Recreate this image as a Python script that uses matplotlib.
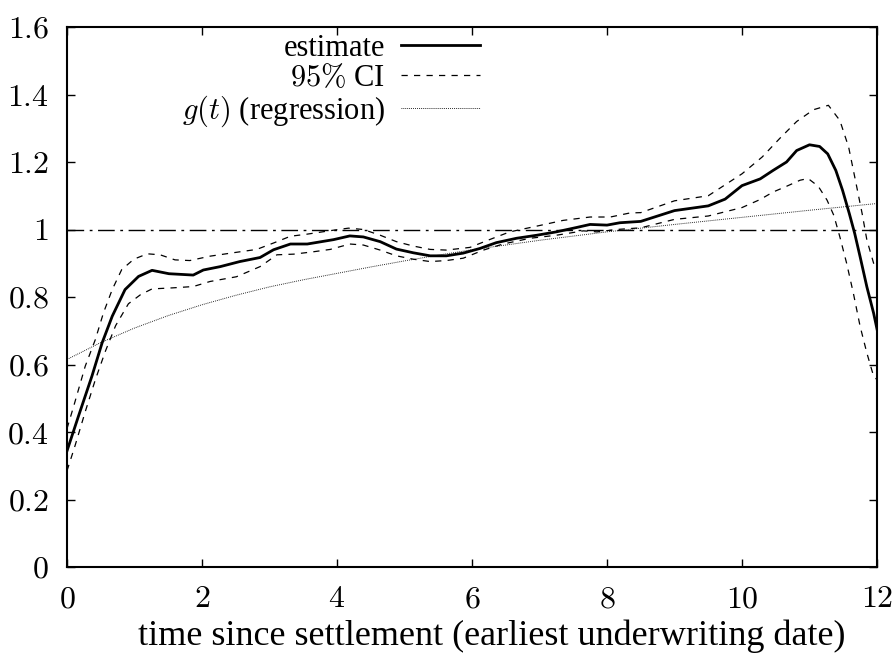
import numpy as np
import matplotlib
matplotlib.use("Agg")
import matplotlib.pyplot as plt
from matplotlib.ticker import FuncFormatter

# -------------------------------
# data
# -------------------------------
t_est = [0.0, 0.17, 0.37, 0.52, 0.67, 0.86, 1.06, 1.26, 1.41, 1.51, 1.87, 2.02, 2.27, 2.56, 2.86,
         3.06, 3.31, 3.56, 3.95, 4.19, 4.39, 4.64, 4.88, 5.13, 5.38, 5.62, 5.87, 6.12,
         6.36, 6.66, 6.96, 7.25, 7.55, 7.75, 8.0, 8.19, 8.5, 9.0, 9.5, 9.75, 10.0, 10.27,
         10.46, 10.66, 10.81, 11.0, 11.15, 11.27, 11.39, 11.49, 11.59, 11.67, 11.75,
         11.85, 11.95, 12.0]
est = [0.344, 0.447, 0.566, 0.664, 0.743, 0.822, 0.861, 0.879, 0.873, 0.869, 0.865, 0.88, 0.89, 0.905, 0.917,
       0.94, 0.957, 0.957, 0.97, 0.981, 0.978, 0.964, 0.942, 0.931, 0.922, 0.922, 0.93, 0.944,
       0.961, 0.974, 0.983, 0.993, 1.006, 1.015, 1.013, 1.02, 1.024, 1.056, 1.07, 1.09, 1.13, 1.15,
       1.175, 1.2, 1.234, 1.251, 1.246, 1.224, 1.175, 1.116, 1.047, 0.988, 0.919,
       0.83, 0.752, 0.705]

t_hi = [0.0, 0.10, 0.27, 0.42, 0.54, 0.67, 0.81, 0.99, 1.19, 1.38, 1.6, 1.82, 2.12, 2.46, 2.81,
        3.06, 3.31, 3.55, 3.95, 4.17, 4.39, 4.64, 4.88, 5.13, 5.38, 5.62, 5.97, 6.22, 6.56,
        6.96, 7.35, 7.75, 8.05, 8.34, 8.5, 9.0, 9.5, 10.0, 10.3, 10.56, 10.81, 11.06, 11.28,
        11.45, 11.58, 11.68, 11.78, 11.85, 11.95, 12.0]
ci_hi = [0.41, 0.477, 0.595, 0.674, 0.753, 0.822, 0.881, 0.912, 0.928, 0.925, 0.91, 0.908, 0.921, 0.931, 0.941,
         0.96, 0.98, 0.986, 0.998, 1.004, 1.0, 0.983, 0.964, 0.951, 0.941, 0.939, 0.947, 0.967, 0.993,
         1.01, 1.027, 1.037, 1.037, 1.049, 1.05, 1.085, 1.10, 1.165, 1.215, 1.27, 1.32, 1.355, 1.368,
         1.323, 1.244, 1.146, 1.047, 0.969, 0.90, 0.885]

t_lo = [0.0, 0.12, 0.27, 0.42, 0.57, 0.72, 0.91, 1.09, 1.26, 1.56, 1.87, 2.12, 2.51, 2.86,
        3.11, 3.36, 3.65, 3.9, 4.19, 4.39, 4.64, 4.88, 5.13, 5.38, 5.62, 5.87, 6.17, 6.46,
        6.86, 7.25, 7.65, 7.85, 8.14, 8.5, 9.0, 9.5, 10.0, 10.27, 10.46, 10.66, 10.86, 10.98,
        11.13, 11.26, 11.36, 11.45, 11.55, 11.65, 11.75, 11.85, 11.95, 12.0]
ci_lo = [0.285, 0.36, 0.46, 0.555, 0.64, 0.715, 0.78, 0.807, 0.824, 0.827, 0.831, 0.846, 0.86, 0.89,
         0.925, 0.927, 0.934, 0.941, 0.957, 0.954, 0.939, 0.922, 0.912, 0.905, 0.908, 0.915, 0.939, 0.957,
         0.974, 0.983, 0.996, 0.993, 1.0, 1.005, 1.03, 1.04, 1.065, 1.089, 1.111, 1.128, 1.146, 1.151,
         1.128, 1.087, 1.042, 0.978, 0.90, 0.811, 0.713, 0.634, 0.565, 0.555]

t_reg = [0.0, 0.5, 1.0, 1.5, 2.0, 2.5, 3.0, 3.5, 4.0, 4.5, 5.0, 5.5, 6.0, 7.0, 8.0, 9.0,
         10.0, 11.0, 12.0]
reg = [0.615, 0.665, 0.708, 0.745, 0.777, 0.805, 0.83, 0.851, 0.87, 0.889, 0.907, 0.924, 0.94,
       0.968, 0.993, 1.015, 1.036, 1.057, 1.077]

x_ticks = [0, 2, 4, 6, 8, 10, 12]
y_ticks = [0, 0.2, 0.4, 0.6, 0.8, 1, 1.2, 1.4, 1.6]

# -------------------------------
# style
# -------------------------------
plt.rcParams['font.family'] = ['Liberation Serif', 'DejaVu Serif']
plt.rcParams['mathtext.fontset'] = 'cm'

fig = plt.figure(figsize=(8.96, 6.53), dpi=100)
ax = fig.add_axes([67 / 896, 1 - 567 / 653, 810 / 896, 540 / 653])

ax.axhline(1.0, color='black', lw=1.0, dashes=(12, 4, 2, 4))
ax.plot(t_est, est, color='black', lw=2.0, label='estimate')
ax.plot(t_hi, ci_hi, color='black', lw=0.9, dashes=(5, 5), label=r'$95\%$ CI')
ax.plot(t_lo, ci_lo, color='black', lw=0.9, dashes=(5, 5))
ax.plot(t_reg, reg, color='black', lw=0.7, dashes=(0.8, 1.2), label=r'$g(t)$ (regression)')

ax.set_xlim(0, 12)
ax.set_ylim(0, 1.6)
ax.set_xticks(x_ticks)
ax.set_yticks(y_ticks)
ax.xaxis.set_major_formatter(FuncFormatter(lambda v, p: f'${v:g}$'))
ax.yaxis.set_major_formatter(FuncFormatter(lambda v, p: f'${v:g}$'))
ax.tick_params(direction='in', length=6, width=1.0, top=True, right=True, labelsize=23)
ax.tick_params(axis='x', pad=13)
ax.tick_params(axis='y', pad=13)
for s in ax.spines.values():
    s.set_linewidth(1.5)

# x label placed by hand, sits a little right of centre like the original
fig.text(492 / 896, 1 - 645 / 653, 'time since settlement (earliest underwriting date)',
         fontsize=26, ha='center', va='baseline')

leg = ax.legend(loc='upper right', bbox_to_anchor=(0.51, 0.987), frameon=False,
                markerfirst=False, fontsize=22, handlelength=2.6, labelspacing=0.03,
                handletextpad=0.5, borderaxespad=0.0, borderpad=0.0)

fig.savefig('out.png', dpi=100)
